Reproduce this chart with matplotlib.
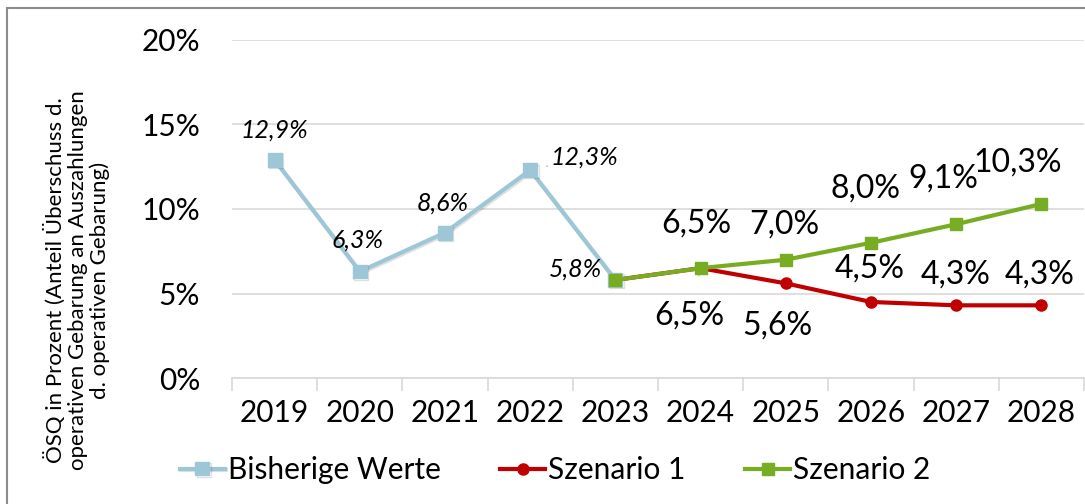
import matplotlib.pyplot as plt
import matplotlib.patheffects as pe
from matplotlib.patches import Rectangle
from matplotlib.ticker import FixedLocator, FuncFormatter
import numpy as np

plt.rcParams["font.family"] = ["Lato", "DejaVu Sans"]

# Data
years = ["2019", "2020", "2021", "2022", "2023", "2024", "2025", "2026", "2027", "2028"]
hist_years = ["2019", "2020", "2021", "2022", "2023"]
hist_values = [12.9, 6.3, 8.6, 12.3, 5.8]
scen_years = ["2023", "2024", "2025", "2026", "2027", "2028"]
scen1_values = [5.8, 6.5, 5.6, 4.5, 4.3, 4.3]
scen2_values = [5.8, 6.5, 7.0, 8.0, 9.1, 10.3]

blue = "#9DC7D6"
red = "#C00000"
green = "#78AC22"

fig = plt.figure(figsize=(10.85, 5.04), dpi=100)
ax = fig.add_axes([232 / 1085, 1 - 378 / 504, 852 / 1085, 338 / 504])

xpos = {y: i for i, y in enumerate(years)}
hx = [xpos[y] for y in hist_years]
sx = [xpos[y] for y in scen_years]

shadow = [pe.SimpleLineShadow(offset=(1, -1), alpha=0.12), pe.Normal()]

ax.plot(hx, hist_values, color=blue, lw=3, marker="s", ms=10,
        label="Bisherige Werte", path_effects=shadow, zorder=3)
ax.plot(sx, scen1_values, color=red, lw=3, marker="o", ms=8,
        label="Szenario 1", zorder=4)
ax.plot(sx, scen2_values, color=green, lw=3, marker="s", ms=9,
        label="Szenario 2", zorder=5)

# Axes styling
ax.set_xlim(-0.5, len(years) - 0.5)
ax.set_ylim(0, 20)
ax.set_xticks(range(len(years)))
ax.set_xticklabels(years)
ax.xaxis.set_minor_locator(FixedLocator(np.arange(-0.5, len(years), 1)))
ax.tick_params(axis="x", which="major", length=0, labelsize=21.5, pad=15)
ax.tick_params(axis="x", which="minor", length=9, color="#D9D9D9", width=1.2)
ax.set_yticks([0, 5, 10, 15, 20])
ax.yaxis.set_major_formatter(FuncFormatter(lambda v, p: f"{v:.0f}%"))
ax.tick_params(axis="y", length=0, labelsize=21.5, pad=23)
ax.grid(axis="y", color="#D9D9D9", lw=1.2)
ax.set_axisbelow(True)
for s in ["top", "right", "left"]:
    ax.spines[s].set_visible(False)
ax.spines["bottom"].set_color("#D9D9D9")
ax.spines["bottom"].set_linewidth(1.2)
ax.spines["bottom"].set_zorder(2)

# Data labels (offsets in pixels)
hist_offsets = [(0, 30), (-2, 31), (-2, 30), (20, 13), (-40, 11)]
for x, v, off in zip(hx, hist_values, hist_offsets):
    lbl = f"{v:.1f}%".replace(".", ",")
    kw = {}
    if off[0] > 10:
        kw = dict(arrowprops=dict(arrowstyle="-", color="#A6A6A6", lw=0.8,
                                  shrinkA=0, shrinkB=12))
    ax.annotate(lbl, (x, v), xytext=off, textcoords="offset pixels",
                ha="left" if off[0] > 10 else "center", va="center",
                fontsize=18, style="italic", **kw)

s2_offsets = [None, (-4, 45), (-1, 35), (-6, 54), (-13, 46), (-24, 41)]
for x, v, off in zip(sx, scen2_values, s2_offsets):
    if off is None:
        continue
    ax.annotate(f"{v:.1f}%".replace(".", ","), (x, v), xytext=off,
                textcoords="offset pixels", ha="center", va="center", fontsize=23)

s1_offsets = [None, (-11, -47), (-8, -42), (-1, 33), (-1, 31), (-2, 31)]
for x, v, off in zip(sx, scen1_values, s1_offsets):
    if off is None:
        continue
    kw = {}
    if off[1] < 0:
        kw = dict(arrowprops=dict(arrowstyle="-", color="#A6A6A6", lw=0.8,
                                  shrinkA=16, shrinkB=0))
    ax.annotate(f"{v:.1f}%".replace(".", ","), (x, v), xytext=off,
                textcoords="offset pixels", ha="center", va="center", fontsize=23, **kw)

# Y axis title
fig.text(77 / 1085, 1 - 280 / 504,
         "ÖSQ in Prozent (Anteil Überschuss d.\noperativen Gebarung an Auszahlungen\nd. operativen Gebarung)",
         rotation=90, ha="center", va="center", fontsize=16, multialignment="center",
         linespacing=1.1)

# Legend
fig.legend(loc="center", bbox_to_anchor=(555 / 1085, 1 - 470 / 504), ncol=3,
           frameon=False, fontsize=21.5, handlelength=1.5, handletextpad=0.1,
           columnspacing=2.0, markerscale=1.0)

# Outer border
fig.add_artist(Rectangle((7 / 1085, -0.2), 1.2, 1 - 8 / 504 + 0.2,
                         transform=fig.transFigure, fill=False,
                         edgecolor="#8C8C8C", lw=1.5))

fig.savefig("out.png", dpi=100)
